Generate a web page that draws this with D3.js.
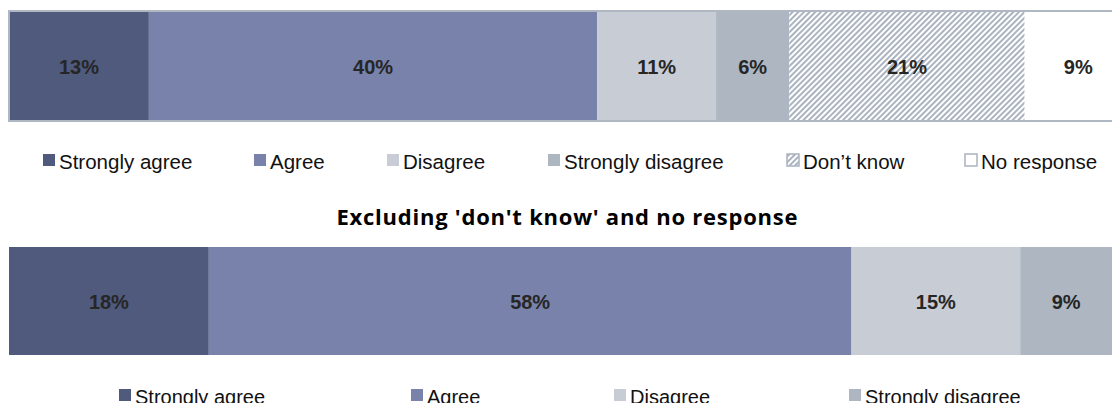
<!DOCTYPE html>
<html>
<head>
<meta charset="utf-8">
<script src="https://cdn.jsdelivr.net/npm/d3@7"></script>
<style>
  body { margin: 0; background: #fff; overflow: hidden; }
</style>
</head>
<body>
<div id="chart"></div>
<script>
// Data
const categoriesAll = ["Strongly agree", "Agree", "Disagree", "Strongly disagree", "Don\u2019t know", "No response"];
const valuesAll = [12.6, 40.4, 10.7, 6.6, 21.2, 8.5];
const labelsAll = ["13%", "40%", "11%", "6%", "21%", "9%"];

const categoriesExcl = ["Strongly agree", "Agree", "Disagree", "Strongly disagree"];
const valuesExcl = [18.0, 57.9, 15.2, 8.9];
const labelsExcl = ["18%", "58%", "15%", "9%"];

const titleExcl = "Excluding 'don't know' and no response";

const width = 1112;
const height = 403;

const colors = {
    "Strongly agree": "#4f5a7d",
    "Agree": "#7982ab",
    "Disagree": "#c7ccd5",
    "Strongly disagree": "#adb6c1",
    "Don\u2019t know": "url(#hatch)",
    "No response": "#ffffff"
};

const svg = d3.select("#chart")
    .append("svg")
    .attr("width", width)
    .attr("height", height);

// hatch pattern for "don't know"
const pattern = svg.append("defs")
    .append("pattern")
    .attr("id", "hatch")
    .attr("patternUnits", "userSpaceOnUse")
    .attr("width", 4)
    .attr("height", 4)
    .attr("patternTransform", "rotate(45)");
pattern.append("rect")
    .attr("width", 4).attr("height", 4).attr("fill", "#ffffff");
pattern.append("rect")
    .attr("width", 2).attr("height", 4).attr("fill", "#aab3bf");

// x scale shared by both bars (bar runs a bit past the right edge)
const x = d3.scaleLinear()
    .domain([0, 100])
    .range([9, 1119]);

function drawBar(cats, vals, labels, y0, h, outline) {
    const ends = d3.cumsum(vals);
    const segs = cats.map((c, i) => ({
        cat: c, label: labels[i],
        start: ends[i] - vals[i], end: ends[i]
    }));
    const g = svg.append("g");

    g.selectAll("rect.seg")
        .data(segs)
        .join("rect")
        .attr("class", "seg")
        .attr("x", d => x(d.start))
        .attr("y", y0)
        .attr("width", d => x(d.end) - x(d.start))
        .attr("height", h)
        .attr("fill", d => colors[d.cat]);

    if (outline) {
        g.append("rect")
            .attr("x", x(0))
            .attr("y", y0)
            .attr("width", x(100) - x(0))
            .attr("height", h)
            .attr("fill", "none")
            .attr("stroke", "#aeb7c2")
            .attr("stroke-width", 2);
    }

    g.selectAll("text.lbl")
        .data(segs)
        .join("text")
        .attr("class", "lbl")
        .attr("x", d => (x(d.start) + Math.min(x(d.end), width)) / 2 + (d.end === 100 ? 10 : 0))
        .attr("y", y0 + h / 2 + 1)
        .attr("dy", "0.35em")
        .attr("text-anchor", "middle")
        .attr("font-family", "'Liberation Sans', Arial, sans-serif")
        .attr("font-weight", "bold")
        .attr("font-size", 20)
        .attr("fill", "#262626")
        .text(d => d.label);
}

function drawLegend(cats, xs, yc, fs) {
    const g = svg.append("g");
    const items = g.selectAll("g.item")
        .data(cats)
        .join("g")
        .attr("class", "item")
        .attr("transform", (d, i) => `translate(${xs[i]},${yc})`);

    items.append("rect")
        .attr("x", 0)
        .attr("y", -7)
        .attr("width", 12)
        .attr("height", 12)
        .attr("fill", d => d === "Don\u2019t know" ? "url(#hatch)" : colors[d])
        .attr("stroke", d => d === "No response" || d === "Don\u2019t know" ? "#aab3bf" : "none")
        .attr("stroke-width", 1.5);

    items.append("text")
        .attr("x", 16)
        .attr("y", 1)
        .attr("dy", "0.35em")
        .attr("font-family", "'Liberation Sans', Arial, sans-serif")
        .attr("font-size", fs)
        .attr("fill", "#111")
        .text(d => d);
}

// Top bar: all responses
drawBar(categoriesAll, valuesAll, labelsAll, 11, 110, true);
drawLegend(categoriesAll, [43, 254, 387, 548, 787, 965], 161, 20.5);

// Title for second bar
svg.append("text")
    .attr("x", 567)
    .attr("y", 225)
    .attr("text-anchor", "middle")
    .attr("font-family", "'Open Sans', 'Noto Sans', sans-serif")
    .attr("font-weight", "bold")
    .attr("font-size", 22)
    .attr("textLength", 461)
    .attr("lengthAdjust", "spacing")
    .attr("fill", "#000")
    .text(titleExcl);

// Bottom bar: excluding don't know / no response
drawBar(categoriesExcl, valuesExcl, labelsExcl, 247, 108, false);
drawLegend(categoriesExcl, [119, 411, 614, 849], 396, 20);
</script>
</body>
</html>
